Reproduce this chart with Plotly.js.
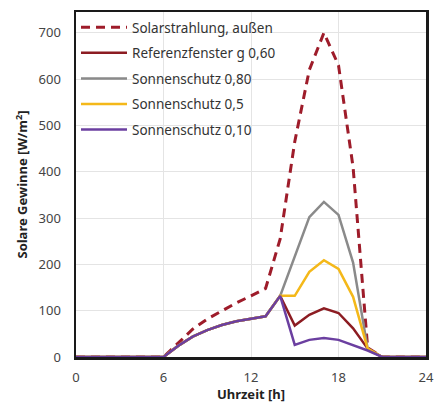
<!DOCTYPE html>
<html>
<head>
<meta charset="utf-8">
<script src="https://cdn.plot.ly/plotly-3.0.1.min.js"></script>
<style>html,body{margin:0;padding:0;background:#fff;}#chart{width:444px;height:403px;}</style>
</head>
<body>
<div id="chart"></div>
<script>
const hours = [0,1,2,3,4,5,6,7,8,9,10,11,12,13,14,15,16,17,18,19,20,21,22,23,24];
const solarAussen   = [0,0,0,0,0,0,0,30,60,82,100,117,132,148,255,465,620,700,630,410,20,0,0,0,0];
const referenz060   = [0,0,0,0,0,0,0,24,44,58,69,77,83,88,132,68,91,105,95,62,18,0,0,0,0];
const sonnen080     = [0,0,0,0,0,0,0,24,44,58,69,77,83,88,132,217,302,335,307,204,18,0,0,0,0];
const sonnen05      = [0,0,0,0,0,0,0,24,44,58,69,77,83,88,132,132,184,209,190,130,18,0,0,0,0];
const sonnen010     = [0,0,0,0,0,0,0,24,44,58,69,77,83,88,132,26,37,41,37,25,14,0,0,0,0];
const seriesNames = ['Solarstrahlung, außen','Referenzfenster g 0,60','Sonnenschutz 0,80','Sonnenschutz 0,5','Sonnenschutz 0,10'];
const xTicks = [0,6,12,18,24];
const yTicks = [0,100,200,300,400,500,600,700];

const font = 'Noto Sans, Open Sans, sans-serif';
function tr(y, i, color, dash, width){
  return {x: hours, y: y, name: seriesNames[i], type:'scatter', mode:'lines',
          legendgroup:'g'+i,
          line:{color: color, width: width, dash: dash}};
}
const data = [
  tr(solarAussen,0,'#9e1c2a','9px,6px',3),
  tr(referenz060,1,'#8c1c22','solid',2.5),
  tr(sonnen080,2,'#8a8a8a','solid',2.5),
  tr(sonnen05,3,'#f4b819','solid',2.5),
  tr(sonnen010,4,'#6b3fa0','solid',2.5)
];
const layout = {
  width:444, height:403,
  margin:{l:76, r:18, t:12, b:46},
  paper_bgcolor:'#fff', plot_bgcolor:'#fff',
  font:{family:font, size:13, color:'#444'},
  showlegend:true,
  legend:{x:0.0, y:1, xanchor:'left', yanchor:'top', bgcolor:'rgba(0,0,0,0)',
          font:{family:font, size:13.5, color:'#333'}, tracegroupgap:5, itemwidth:46, traceorder:'grouped'},
  xaxis:{range:[0,24], tickvals:xTicks, ticktext:xTicks.map(String), showgrid:true, gridcolor:'#e4e4e4', gridwidth:1,
         zeroline:false, showline:true, mirror:true, linecolor:'#1a1a1a', linewidth:2.5, ticks:'', ticklabelstandoff:7,
         tickfont:{size:13, color:'#444'},
         title:{text:'<b>Uhrzeit [h]</b>', font:{size:13, color:'#222'}, standoff:6}},
  yaxis:{range:[0,745], tickvals:yTicks, ticktext:yTicks.map(String), showgrid:true, gridcolor:'#e4e4e4', gridwidth:1,
         zeroline:false, showline:true, mirror:true, linecolor:'#1a1a1a', linewidth:2.5, ticks:'', ticklabelstandoff:10,
         tickfont:{size:13, color:'#444'},
         title:{text:'<b>Solare Gewinne [W/m<sup>2</sup>]</b>', font:{size:13, color:'#222'}, standoff:8}}
};
Plotly.newPlot('chart', data, layout, {displayModeBar:false, staticPlot:true});
</script>
</body>
</html>
